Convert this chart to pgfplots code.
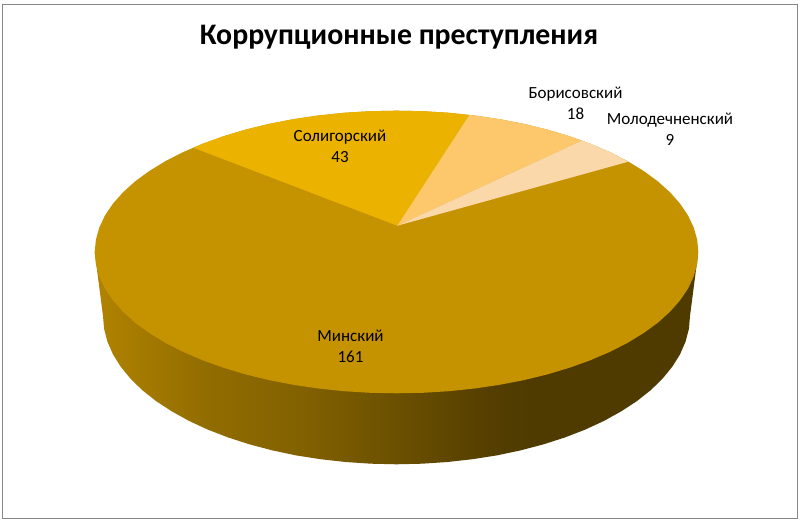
\documentclass[border=0pt]{standalone}
\usepackage{fontspec}
\setmainfont{Carlito}
\usepackage{pgfplots}
\pgfplotsset{compat=1.18}
\definecolor{cMin}{HTML}{C69300}
\definecolor{cSol}{HTML}{EBB200}
\definecolor{cBor}{HTML}{FDC76B}
\definecolor{cMol}{HTML}{FBD8AA}
\definecolor{cFrame}{HTML}{868686}
\definecolor{sA}{RGB}{178,131,0}
\definecolor{sB}{RGB}{178,131,0}
\definecolor{sC}{RGB}{146,109,0}
\definecolor{sD}{RGB}{130,97,0}
\definecolor{sE}{RGB}{107,80,0}
\definecolor{sF}{RGB}{84,62,0}
\definecolor{sG}{RGB}{79,59,0}
\pgfdeclarehorizontalshading{sideshade}{100bp}{
 color(0bp)=(sA);
 color(25bp)=(sB);
 color(34bp)=(sC);
 color(42bp)=(sD);
 color(50bp)=(sE);
 color(58bp)=(sF);
 color(61bp)=(sG);
 color(100bp)=(sG)}
\begin{document}
\begin{tikzpicture}
\begin{axis}[
  width=803pt, height=521pt, scale only axis,
  xmin=0, xmax=803, ymin=0, ymax=521, y dir=reverse,
  hide axis, clip=false]
% page extent
\addplot[draw=none] coordinates {(0,0) (803,521)};
% frame
\addplot[draw=cFrame, line width=0.9pt, fill=white] coordinates {(2.5,4.3) (797.5,4.3) (797.5,518.3) (2.5,518.3)} --cycle;
% side wall
\addplot[shade, shading=sideshade, draw=none] coordinates {
(94.7,252) (103.0,316) (104.1,328.9) (107.5,341.8) (113.0,354.4) (120.7,366.7) (130.5,378.7) (142.3,390.2) (156.1,401.1) (171.7,411.3) (189.0,420.9) (207.8,429.6) (228.2,437.5) (249.7,444.4) (272.5,450.4) (296.1,455.4) (320.5,459.2) (345.5,462.0) (370.9,463.7)
(396.5,464.3)
(422.1,463.7) (447.5,462.0) (472.5,459.2) (496.9,455.4) (520.5,450.4) (543.3,444.4) (564.8,437.5) (585.2,429.6) (604.0,420.9) (621.3,411.3) (636.9,401.1) (650.7,390.2) (662.5,378.7) (672.3,366.7) (680.0,354.4) (685.5,341.8) (688.9,328.9) (690.0,316) (698.3,252)
} --cycle;
% top: Minsk as the full ellipse
\addplot[fill=cMin, draw=none] coordinates {
(698.3,252) (697.2,239.7) (693.7,227.5) (688.0,215.4) (680.1,203.7) (670.0,192.3) (657.9,181.4) (643.7,171.0) (627.7,161.2) (609.9,152.1) (590.5,143.8) (569.6,136.3) (547.4,129.6) (524.0,123.9) (499.7,119.2) (474.6,115.5) (448.9,112.8) (422.8,111.2) (396.5,110.7)
(370.2,111.2) (344.1,112.8) (318.4,115.5) (293.3,119.2) (269.0,123.9) (245.6,129.6) (223.4,136.3) (202.5,143.8) (183.1,152.1) (165.3,161.2) (149.3,171.0) (135.1,181.4) (123.0,192.3) (112.9,203.7) (105.0,215.4) (99.3,227.5) (95.9,239.7) (94.7,252)
(95.9,264.3) (99.3,276.5) (105.0,288.6) (112.9,300.3) (123.0,311.7) (135.1,322.7) (149.3,333.0) (165.3,342.8) (183.1,351.9) (202.5,360.2) (223.4,367.7) (245.6,374.4) (269.0,380.1) (293.3,384.8) (318.4,388.5) (344.1,391.2) (370.2,392.8) (396.5,393.3)
(422.8,392.8) (448.9,391.2) (474.6,388.5) (499.7,384.8) (524.0,380.1) (547.4,374.4) (569.6,367.7) (590.5,360.2) (609.9,351.9) (627.7,342.8) (643.7,333.0) (657.9,322.7) (670.0,311.7) (680.1,300.3) (688.0,288.6) (693.7,276.5) (697.2,264.3)
} --cycle;
% Soligorsk
\addplot[fill=cSol, draw=none] coordinates {
(397.3,225.7) (469.3,115) (448.9,112.8) (422.8,111.2) (396.5,110.7) (370.2,111.2) (344.1,112.8) (318.4,115.5) (293.3,119.2) (269.0,123.9) (245.6,129.6) (223.4,136.3) (202.5,143.8) (193.3,147.7)
} --cycle;
% Borisov
\addplot[fill=cBor, draw=none] coordinates {
(397.3,225.7) (581.7,140.7) (569.6,136.3) (547.4,129.6) (524.0,123.9) (499.7,119.2) (474.6,115.5) (469.3,115)
} --cycle;
% Molodechno
\addplot[fill=cMol, draw=none] coordinates {
(397.3,225.7) (628.3,161.7) (609.9,152.1) (590.5,143.8) (581.7,140.7)
} --cycle;
\node[font=\fontsize{29.8}{34}\selectfont\bfseries, anchor=center] at (axis cs:399,37.5) {Коррупционные преступления};
\node[font=\fontsize{17}{20.5}\selectfont, align=center, anchor=center] at (axis cs:350.5,346.5) {Минский\\161};
\node[font=\fontsize{17}{20.5}\selectfont, align=center, anchor=center] at (axis cs:340,146.5) {Солигорский\\43};
\node[font=\fontsize{17}{20.5}\selectfont, align=center, anchor=center] at (axis cs:575.5,103.5) {Борисовский\\18};
\node[font=\fontsize{17}{20.5}\selectfont, align=center, anchor=center] at (axis cs:670,129.5) {Молодечненский\\9};
\end{axis}
\end{tikzpicture}
\end{document}
